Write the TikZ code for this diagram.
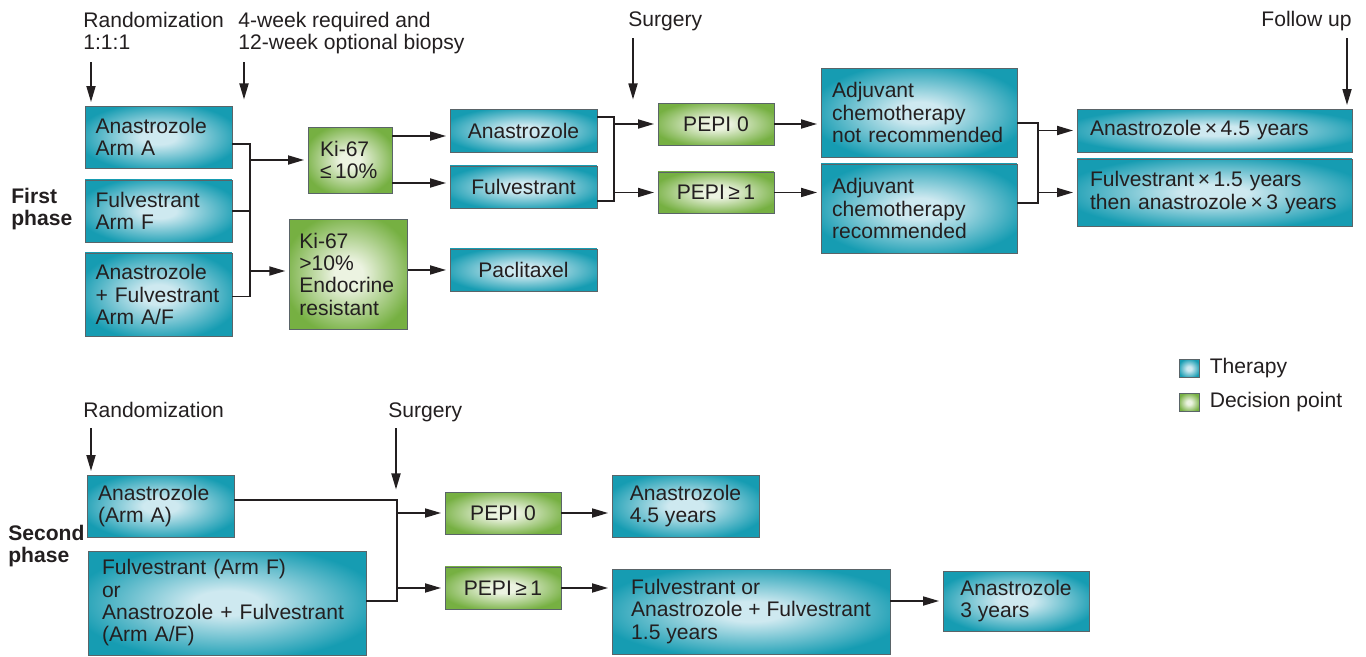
\documentclass[tikz,border=0pt]{standalone}
\usepackage{fontspec}
\setmainfont{Liberation Sans}
\usetikzlibrary{arrows.meta,positioning}

\definecolor{tealout}{RGB}{22,156,178}
\definecolor{tealin}{RGB}{206,233,240}
\definecolor{greenout}{RGB}{118,176,66}
\definecolor{greenin}{RGB}{236,243,225}
\definecolor{ink}{RGB}{35,31,32}
\definecolor{rim}{RGB}{90,100,104}
\pgfdeclareradialshading{tealglow}{\pgfpoint{0bp}{0bp}}{color(0bp)=(tealin); color(6bp)=(tealin); color(28bp)=(tealout); color(100bp)=(tealout)}
\pgfdeclareradialshading{greenglow}{\pgfpoint{0bp}{0bp}}{color(0bp)=(greenin); color(6bp)=(greenin); color(28bp)=(greenout); color(100bp)=(greenout)}

\begin{document}
\begin{tikzpicture}[x=0.02cm, y=-0.02cm, >={Triangle[length=0.32cm, width=0.18cm]},
    font=\fontsize{12}{12.7}\selectfont, text=ink]
  \tikzstyle{therapy} = [draw=rim, line width=0.5pt, rectangle, shade, shading=tealglow, inner ysep=0pt]
  \tikzstyle{decision} = [draw=rim, line width=0.5pt, rectangle, shade, shading=greenglow, inner ysep=0pt]
  \tikzstyle{link} = [draw=ink, line width=1pt]
  \tikzstyle{flow} = [link, ->, shorten >=2pt]
  \tikzstyle{heading} = [inner sep=0pt, align=left, anchor=north west]
  \tikzstyle{phase} = [heading, font=\fontsize{12}{12.7}\selectfont\bfseries]
  \useasboundingbox (0,0) rectangle (1366,656);

  % first phase
  \node [heading] (rand1) at (83,12) {Randomization\\1:1:1};
  \node [heading] (biopsy) at (238,12) {4-week required and\\12-week optional biopsy};
  \node [heading] (surg1) at (628,11) {Surgery};
  \node [heading, anchor=north east] (follow) at (1352,11) {Follow up};
  \node [phase] (first) at (11,188) {First\\phase};

  \node [therapy, text width=2.52cm, inner xsep=0.21cm, minimum height=1.24cm, align=left] (armA) at (158.5,137) {Anastrozole\\Arm A};
  \node [therapy, text width=2.52cm, inner xsep=0.21cm, minimum height=1.24cm, align=left, below of=armA, node distance=1.48cm] (armF) {Fulvestrant\\Arm F};
  \node [therapy, text width=2.52cm, inner xsep=0.21cm, minimum height=1.66cm, align=left, below of=armF, node distance=1.67cm] (armAF) {Anastrozole\\+ Fulvestrant\\Arm A/F};

  \node [decision, text width=1.2cm, inner xsep=0.24cm, minimum height=1.32cm, align=left] (kilo) at (350,160) {Ki-67\\≤\,10\%};
  \node [decision, text width=1.97cm, inner xsep=0.2cm, minimum height=2.2cm, align=left] (kihi) at (348.5,274) {Ki-67\\>10\%\\Endocrine\\resistant};

  \node [therapy, minimum width=2.94cm, minimum height=0.86cm] (ana1) at (523.5,130.5) {Anastrozole};
  \node [therapy, minimum width=2.94cm, minimum height=0.84cm, below of=ana1, node distance=1.13cm] (ful1) {Fulvestrant};
  \node [therapy, minimum width=2.94cm, minimum height=0.84cm, below of=ful1, node distance=1.66cm] (pacli) {Paclitaxel};

  \node [decision, minimum width=2.32cm, minimum height=0.84cm] (pepi0) at (716,124) {PEPI 0};
  \node [decision, minimum width=2.32cm, minimum height=0.82cm, below of=pepi0, node distance=1.37cm] (pepi1) {PEPI\,≥\,1};

  \node [therapy, text width=3.48cm, inner xsep=0.22cm, minimum height=1.78cm, align=left] (adjno) at (919,112.5) {Adjuvant\\chemotherapy\\not recommended};
  \node [therapy, text width=3.48cm, inner xsep=0.22cm, minimum height=1.78cm, align=left, below of=adjno, node distance=1.92cm] (adjyes) {Adjuvant\\chemotherapy\\recommended};

  \node [therapy, text width=4.98cm, inner xsep=0.26cm, minimum height=0.86cm, align=left] (fu1) at (1214.5,130.5) {Anastrozole\,×\,4.5 years};
  \node [therapy, text width=4.98cm, inner xsep=0.26cm, minimum height=1.34cm, align=left, below of=fu1, node distance=1.24cm] (fu2) {Fulvestrant\,×\,1.5 years\\then anastrozole\,×\,3 years};

  \coordinate (randtip) at (91,62);
  \coordinate (biopsytip) at (244,62);
  \coordinate (biopsyend) at (244,103);
  \coordinate (surgtip) at (633,38);
  \coordinate (surgend) at (633,103);
  \coordinate (followtip) at (1347,38);
  \draw [flow] (randtip) -- (randtip |- armA.north);
  \draw [flow] (biopsytip) -- (biopsyend);
  \draw [flow] (surgtip) -- (surgend);
  \draw [flow] (followtip) -- (followtip |- fu1.north);

  \coordinate (split1) at (250,160);
  \coordinate (split2) at (250,271);
  \draw [link] ([yshift=-0.14cm]armA.east) -| (split1) |- ([yshift=-0.04cm]armAF.east);
  \draw [link] (armF.east) -- (armF.east -| split1);
  \draw [flow] (split1) -- (kilo);
  \draw [flow] (split2) -- (split2 -| kihi.west);

  \draw [flow] ([yshift=0.48cm]kilo.east) coordinate (k1) -- (k1 -| ana1.west);
  \draw [flow] ([yshift=-0.46cm]kilo.east) coordinate (k2) -- (k2 -| ful1.west);
  \draw [flow] (kihi.east |- pacli) -- (pacli);

  \coordinate (split3) at (614,124);
  \draw [link] ([yshift=0.27cm]ana1.east) -| (split3) |- ([yshift=-0.28cm]ful1.east);
  \draw [flow] (split3) -- (pepi0);
  \draw [flow] (split3 |- pepi1) -- (pepi1);
  \draw [flow] (pepi0) -- (pepi0 -| adjno.west);
  \draw [flow] (pepi1) -- (pepi1 -| adjyes.west);

  \coordinate (split4) at (1038,133);
  \draw [link] ([yshift=-0.21cm]adjno.east) -| (split4) |- ([yshift=0.11cm]adjyes.east);
  \draw [flow] (split4 |- fu1) -- (fu1);
  \draw [flow] (split4 |- fu2) -- (fu2);

  % legend
  \node [therapy, minimum width=0.4cm, minimum height=0.36cm, inner sep=0pt] (keyT) at (1189,368.5) {};
  \node [right=0.2cm of keyT, inner sep=0pt] (keyTtext) {Therapy};
  \node [decision, minimum width=0.4cm, minimum height=0.36cm, inner sep=0pt] (keyD) at (1189,402.5) {};
  \node [right=0.2cm of keyD, inner sep=0pt] (keyDtext) {Decision point};

  % second phase
  \node [heading] (rand2) at (83,402) {Randomization};
  \node [heading] (surg2) at (388,402) {Surgery};
  \node [phase] (second) at (8,525) {Second\\phase};

  \node [therapy, text width=2.5cm, inner xsep=0.22cm, minimum height=1.24cm, align=left] (armA2) at (160.5,506) {Anastrozole\\(Arm A)};
  \node [therapy, text width=5.0cm, inner xsep=0.28cm, minimum height=2.08cm, align=left] (armFAF2) at (227,603) {Fulvestrant (Arm F)\\or\\Anastrozole + Fulvestrant\\(Arm A/F)};

  \node [decision, minimum width=2.32cm, minimum height=0.84cm] (pepi02) at (503,513) {PEPI 0};
  \node [decision, minimum width=2.32cm, minimum height=0.84cm, below of=pepi02, node distance=1.5cm] (pepi12) {PEPI\,≥\,1};

  \node [therapy, minimum width=2.94cm, minimum height=1.24cm, align=left] (ana2) at (685.5,506) {Anastrozole\\4.5 years};
  \node [therapy, minimum width=5.56cm, minimum height=1.7cm, align=left] (ful2) at (751,611.5) {Fulvestrant or\\Anastrozole + Fulvestrant\\1.5 years};
  \node [therapy, minimum width=2.92cm, minimum height=1.2cm, align=left] (ana3) at (1016,601) {Anastrozole\\3 years};

  \coordinate (randtip2) at (91,428);
  \coordinate (surgtip2) at (396,428);
  \coordinate (surgend2) at (396,493);
  \draw [flow] (randtip2) -- (randtip2 |- armA2.north);
  \draw [flow] (surgtip2) -- (surgend2);

  \coordinate (split5) at (397,513);
  \draw [link] ([yshift=0.12cm]armA2.east) -| (split5) |- ([yshift=0.04cm]armFAF2.east);
  \draw [flow] (split5) -- (pepi02);
  \draw [flow] (split5 |- pepi12) -- (pepi12);
  \draw [flow] (pepi02) -- (pepi02 -| ana2.west);
  \draw [flow] (pepi12) -- (pepi12 -| ful2.west);
  \draw [flow] (ful2.east |- ana3) -- (ana3);
\end{tikzpicture}
\end{document}
